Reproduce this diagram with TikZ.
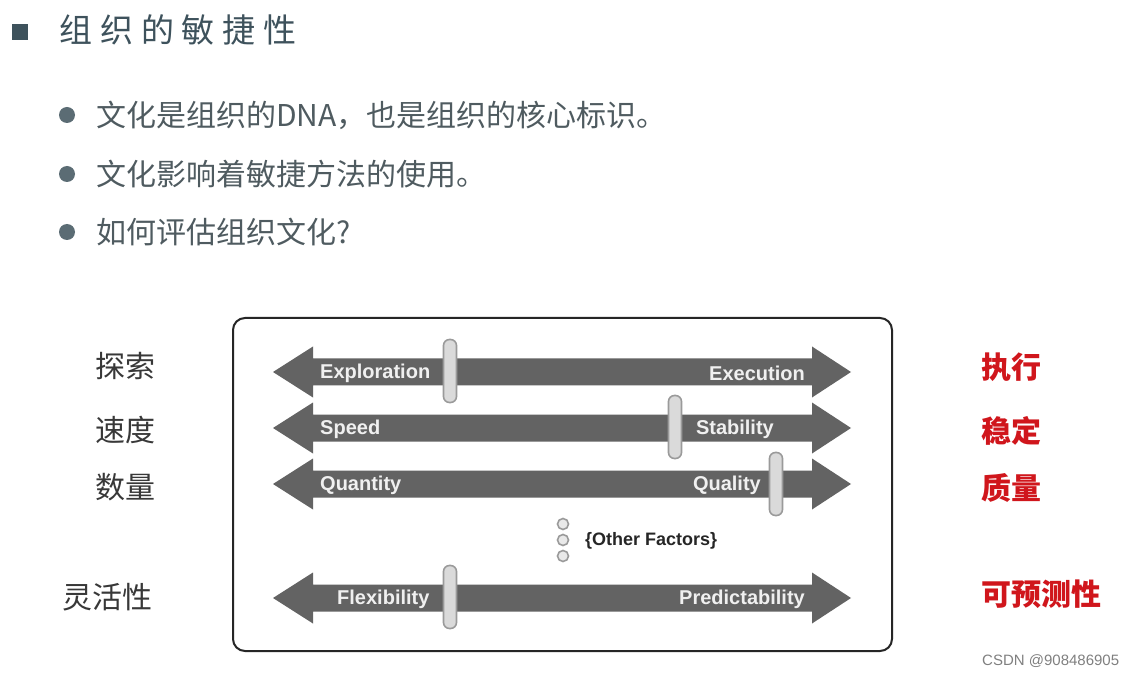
\documentclass[tikz,border=0pt]{standalone}
\usepackage{fontspec}
\setmainfont{Liberation Sans}
\newfontfamily\cjk{Noto Sans CJK SC}
\newfontfamily\cjktitle[LetterSpace=24]{Noto Sans CJK SC}
\definecolor{slate}{HTML}{3E525C}
\definecolor{bodytxt}{HTML}{4F5B60}
\definecolor{arrowgray}{HTML}{636363}
\definecolor{handlefill}{HTML}{DADADA}
\definecolor{handleline}{HTML}{9A9A9A}
\definecolor{redtxt}{HTML}{D0161C}
\begin{document}
\begin{tikzpicture}[x=1pt,y=-1pt,
  titletxt/.style={inner sep=0pt,anchor=west,text=slate,font=\fontsize{33}{36}\selectfont\cjktitle},
  bullettxt/.style={inner sep=0pt,anchor=west,text=bodytxt,font=\fontsize{30}{33}\selectfont\cjk},
  bulletdot/.style={circle,fill=slate!85,inner sep=0pt,minimum size=16pt},
  leftlab/.style={inner sep=0pt,anchor=west,text=black!78,font=\fontsize{30}{33}\selectfont\cjk},
  rightlab/.style={inner sep=0pt,anchor=west,text=redtxt,font=\fontsize{30}{33}\selectfont\cjk\bfseries},
  arrlab/.style={inner sep=0pt,text=white!94!black,font=\fontsize{20}{22}\selectfont\bfseries},
  handle/.style={rounded corners=6pt,fill=handlefill,draw=handleline,line width=1.6pt,minimum width=13pt,minimum height=63pt,inner sep=0pt},
  smalldot/.style={circle,draw=handleline,fill=handlefill!60,line width=1.6pt,minimum size=11pt,inner sep=0pt},
  frame/.style={draw=black!85,line width=2pt,rounded corners=12pt}
]
\useasboundingbox (0,0) rectangle (1133,676);
\fill[white] (0,0) rectangle (1133,676);

% title
\node[fill=slate,minimum size=16pt,inner sep=0pt] (tsq) at (20,32) {};
\node[titletxt] (title) at (59,30) {组织的敏捷性};

% bullets
\node[bulletdot] (b1) at (67,115) {};
\node[bullettxt] (t1) at (96,115) {文化是组织的DNA，也是组织的核心标识。};
\node[bulletdot] (b2) at (67,174) {};
\node[bullettxt] (t2) at (96,174) {文化影响着敏捷方法的使用。};
\node[bulletdot] (b3) at (67,232) {};
\node[bullettxt] (t3) at (96,232) {如何评估组织文化?};

% frame
\draw[frame] (233,318) rectangle (892,651);

% arrows
\foreach \c in {372,428,484,598}{
  \fill[arrowgray] (273,\c) -- (313,\c-25.5) -- (313,\c-13.5) -- (812,\c-13.5) -- (812,\c-25.5)
    -- (851,\c) -- (812,\c+25.5) -- (812,\c+13.5) -- (313,\c+13.5) -- (313,\c+25.5) -- cycle;
}

% arrow labels
\node[arrlab,anchor=west] (exl) at (320,373) {Exploration};
\node[arrlab,anchor=east] (exe) at (805,373) {Execution};
\node[arrlab,anchor=west] (spd) at (320,429) {Speed};
\node[arrlab,anchor=east] (stb) at (774,429) {Stability};
\node[arrlab,anchor=west] (qty) at (320,485) {Quantity};
\node[arrlab,anchor=east] (qly) at (761,485) {Quality};
\node[arrlab,anchor=west] (flx) at (337,599) {Flexibility};
\node[arrlab,anchor=east] (prd) at (805,599) {Predictability};

% handles
\node[handle] (h1) at (450,371) {};
\node[handle] (h2) at (675,427) {};
\node[handle] (h3) at (776,484) {};
\node[handle] (h4) at (450,597) {};

% other factors
\node[smalldot] (d1) at (563,524) {};
\node[smalldot] (d2) at (563,540) {};
\node[smalldot] (d3) at (563,556) {};
\node[inner sep=0pt,anchor=west,text=black!85,font=\fontsize{18}{20}\selectfont\bfseries] (oth) at (585,541) {\{Other Factors\}};

% left labels
\node[leftlab] (l1) at (95,366) {探索};
\node[leftlab] (l2) at (95,430) {速度};
\node[leftlab] (l3) at (95,487) {数量};
\node[leftlab] (l4) at (62,597) {灵活性};

% right labels
\node[rightlab] (r1) at (981,367) {执行};
\node[rightlab] (r2) at (981,431) {稳定};
\node[rightlab] (r3) at (981,488) {质量};
\node[rightlab] (r4) at (981,594) {可预测性};

% watermark
\node[inner sep=0pt,anchor=west,text=black!50,font=\fontsize{15}{17}\selectfont] (wm) at (982,661) {CSDN @908486905};
\end{tikzpicture}
\end{document}
